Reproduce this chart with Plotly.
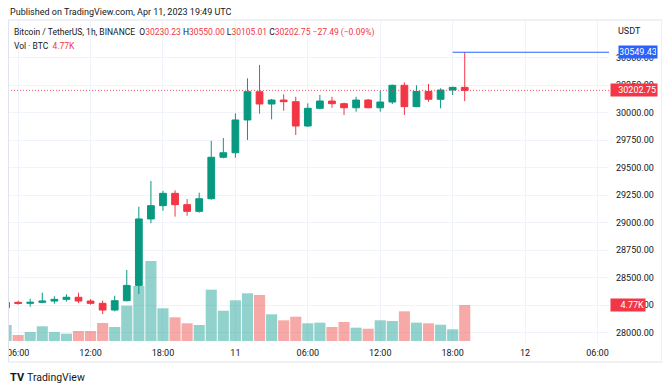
import plotly.graph_objects as go
import pandas as pd

# ---------------- data ----------------
opens = [28227, 28276, 28267, 28276, 28288, 28303, 28322, 28288, 28267, 28206,
         28291, 28430, 29034, 29155, 29267, 29164, 29103, 29218, 29595, 29636,
         29934, 30191, 30079, 30115, 30100, 29879, 30040, 30106, 30082, 30045,
         30115, 30045, 30097, 30249, 30055, 30194, 30122, 30206, 30230.23]
highs = [28280, 28291, 28309, 28364, 28331, 28349, 28364, 28306, 28291, 28336,
         28570, 29145, 29379, 29291, 29295, 29215, 29273, 29745, 29770, 29995,
         30313, 30434, 30125, 30167, 30145, 30085, 30161, 30145, 30091, 30145,
         30125, 30200, 30255, 30276, 30249, 30261, 30222, 30236, 30550.00]
lows = [28220, 28255, 28236, 28268, 28264, 28282, 28270, 28255, 28170, 28195,
        28285, 28352, 28995, 29109, 29055, 29064, 29091, 29210, 29585, 29591,
        29752, 29991, 29940, 30018, 29797, 29870, 30030, 30045, 29979, 30009,
        30040, 30009, 30079, 29979, 30050, 30100, 30040, 30161, 30105.01]
closes = [28276, 28267, 28276, 28288, 28303, 28322, 28288, 28267, 28206, 28291,
          28430, 29034, 29155, 29267, 29164, 29103, 29218, 29595, 29636, 29934,
          30191, 30079, 30115, 30100, 29879, 30040, 30106, 30082, 30045, 30115,
          30045, 30097, 30249, 30055, 30194, 30122, 30206, 30230.23, 30202.75]
volumes = [2120, 795, 1190, 1950, 1190, 970, 1325, 1325, 2385, 1855,
           4680, 7290, 10600, 4330, 3140, 2345, 2120, 6800, 4015, 5390,
           6320, 6095, 3535, 2740, 3220, 2345, 2430, 1855, 2520, 1765,
           1630, 2740, 2650, 3930, 2430, 2345, 2160, 1550, 4770]
times = pd.date_range("2023-04-10 05:00", periods=len(opens), freq="h")

change_abs = "−27.49"
change_pct = "−0.09%"
volume_label = "4.77K"
hline_level = 30549.43
price_ticks = [28000, 28250, 28500, 28750, 29000, 29250, 29500, 29750, 30000, 30250, 30500]
time_tickvals = pd.to_datetime(["2023-04-10 06:00", "2023-04-10 12:00", "2023-04-10 18:00",
                                "2023-04-11 00:00", "2023-04-11 06:00", "2023-04-11 12:00",
                                "2023-04-11 18:00", "2023-04-12 00:00", "2023-04-12 06:00"])
time_ticktext = ["06:00", "12:00", "18:00", "11", "06:00", "12:00", "18:00", "12", "06:00"]

title_text = "Published on TradingView.com, Apr 11, 2023 19:49 UTC"
symbol_text = "Bitcoin / TetherUS, 1h, BINANCE"
vol_text = "Vol · BTC"

# ---------------- layout geometry (page pixels; page body has an 8px margin) ----------------
OFF = 8
W, H = 670 - OFF, 389 - OFF
def px(x): return (x - OFF) / W
def py(y): return 1 - (y - OFF) / H

pane_l, pane_r, pane_t, pane_b = 8, 609, 21, 343
hour_px = 12.07
anchor_t, anchor_px = pd.Timestamp("2023-04-11 00:00"), 235.4
x_lo = anchor_t - pd.Timedelta(hours=(anchor_px - pane_l) / hour_px)
x_hi = anchor_t + pd.Timedelta(hours=(pane_r - anchor_px) / hour_px)
ppx = 1 / 0.11  # USDT per pixel
p_top = 30000 + (112.7 - pane_t) * ppx
p_bot = 30000 - (pane_b - 112.7) * ppx
vpx = 4770 / 36.0  # BTC per pixel
v_lo = -(pane_b - 341) * vpx
v_hi = (341 - pane_t) * vpx

GREEN, RED = "#089981", "#f23645"
VGREEN, VRED = "rgba(38,166,154,0.5)", "rgba(239,83,80,0.5)"
TXT = "#131722"
FONT = "Roboto, 'Noto Sans', sans-serif"

vcolors = [VGREEN if c >= o else VRED for o, c in zip(opens, closes)]

fig = go.Figure()
fig.add_trace(go.Bar(x=times, y=volumes, marker=dict(color=vcolors, line=dict(width=0)),
                     xaxis="x", yaxis="y", showlegend=False))
fig.add_trace(go.Candlestick(x=times, open=opens, high=highs, low=lows, close=closes,
                             increasing=dict(line=dict(color=GREEN, width=1), fillcolor=GREEN),
                             decreasing=dict(line=dict(color=RED, width=1), fillcolor=RED),
                             whiskerwidth=0, xaxis="x", yaxis="y2", showlegend=False))
# horizontal ray at the high
fig.add_trace(go.Scatter(x=[times[-2], x_hi], y=[hline_level, hline_level], mode="lines",
                         line=dict(color="#2962ff", width=1.2), xaxis="x", yaxis="y2",
                         showlegend=False, hoverinfo="skip"))

fig.update_layout(
    width=W, height=H, margin=dict(l=0, r=0, t=0, b=0),
    paper_bgcolor="white", plot_bgcolor="white",
    bargap=0.08, boxgap=0.2,
    font=dict(family=FONT, color=TXT, size=9),
    xaxis=dict(domain=[px(pane_l), px(pane_r)], range=[x_lo, x_hi], type="date",
               rangeslider=dict(visible=False), showgrid=True, gridcolor="#f0f3fa",
               tickvals=time_tickvals, ticktext=time_ticktext, ticks="",
               ticklabelstandoff=3, ticklabeloverflow="allow", zeroline=False, showline=False,
               tickfont=dict(size=9, color=TXT)),
    yaxis=dict(domain=[py(pane_b), py(pane_t)], range=[v_lo, v_hi], visible=False,
               showgrid=False, zeroline=False),
    yaxis2=dict(domain=[py(pane_b), py(pane_t)], range=[p_bot, p_top], overlaying="y",
                side="right", anchor="x", tickvals=price_ticks, tickformat=".2f",
                showgrid=True, gridcolor="#f0f3fa", ticks="", ticklabelstandoff=6,
                zeroline=False, showline=False, tickfont=dict(size=9, color=TXT)),
    showlegend=False,
)

# last price dotted line
fig.add_shape(type="line", xref="x domain", x0=0, x1=1, yref="y2", y0=closes[-1], y1=closes[-1],
              line=dict(color="rgba(242,54,69,0.8)", width=1, dash="1px,2px"), layer="above")
# outer frame
fig.add_shape(type="rect", xref="paper", yref="paper", x0=px(8.5), x1=px(662), y0=py(362), y1=py(20),
              line=dict(color="#e0e3eb", width=1), layer="above")

red_span = lambda s: f"<span style='color:{RED}'>{s}</span>"
legend1 = (f"{symbol_text}  O{red_span(f'{opens[-1]:.2f}')} H{red_span(f'{highs[-1]:.2f}')} "
           f"L{red_span(f'{lows[-1]:.2f}')} C{red_span(f'{closes[-1]:.2f}')} "
           + red_span(f"{change_abs} ({change_pct})"))
legend2 = f"{vol_text}  {red_span(volume_label)}"

ann = [
    dict(text=title_text, x=px(8), y=py(12), xanchor="left", yanchor="middle",
         font=dict(size=9, color=TXT)),
    dict(text=legend1, x=px(12), y=py(33), xanchor="left", yanchor="middle",
         font=dict(size=8.5, color=TXT)),
    dict(text=legend2, x=px(12), y=py(45.5), xanchor="left", yanchor="middle",
         font=dict(size=8.5, color=TXT)),
    dict(text="USDT", x=px(616), y=py(31), xanchor="left", yanchor="middle",
         font=dict(size=9, color=TXT)),
    dict(text="<b>TV</b>", x=px(8), y=py(377), xanchor="left", yanchor="middle",
         font=dict(size=11, color=TXT)),
    dict(text="TradingView", x=px(25), y=py(377), xanchor="left", yanchor="middle",
         font=dict(size=10.5, color=TXT)),
]
for a in ann:
    a.update(xref="paper", yref="paper", showarrow=False)
    fig.add_annotation(**a)

# price-scale labels
fig.add_annotation(text=f"{hline_level:.2f}", xref="paper", x=px(618), yref="y2", y=hline_level,
                   xanchor="left", yanchor="middle", showarrow=False, bgcolor="#2962ff",
                   font=dict(size=9, color="white"), borderpad=1, width=36, align="center")
fig.add_annotation(text=f"{closes[-1]:.2f}", xref="paper", x=px(610), yref="y2", y=closes[-1],
                   xanchor="left", yanchor="middle", showarrow=False, bgcolor=RED,
                   font=dict(size=9, color="white"), borderpad=1, width=44, align="right")
fig.add_annotation(text=volume_label, xref="paper", x=px(610), yref="y", y=volumes[-1],
                   xanchor="left", yanchor="middle", showarrow=False, bgcolor=RED,
                   font=dict(size=9, color="white"), borderpad=1, width=32, align="right")

fig.write_html("out.html")
